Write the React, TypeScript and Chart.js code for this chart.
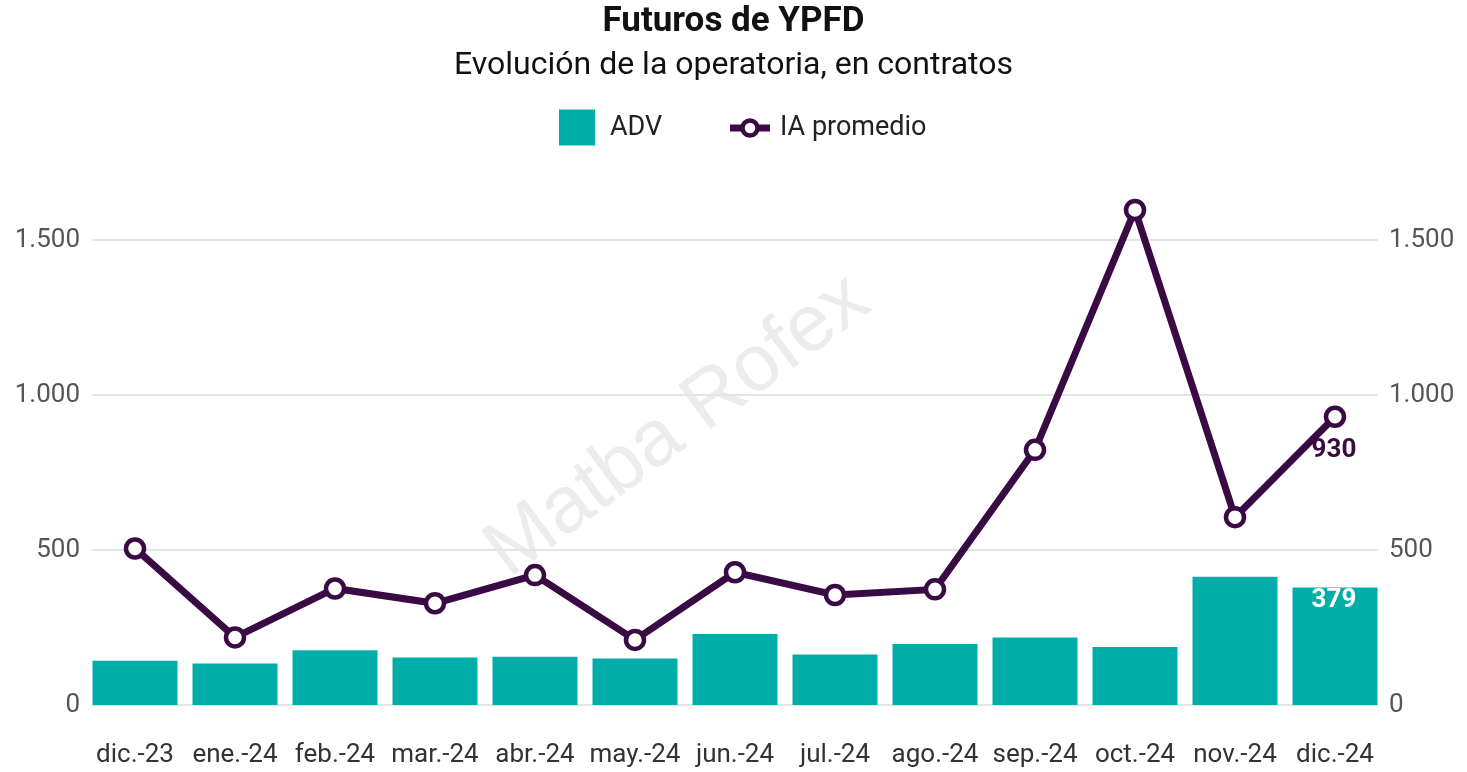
import React, { useEffect, useRef } from 'react';
import { Chart, registerables } from 'chart.js';

Chart.register(...registerables);

const categories = ['dic.-23', 'ene.-24', 'feb.-24', 'mar.-24', 'abr.-24', 'may.-24', 'jun.-24', 'jul.-24', 'ago.-24', 'sep.-24', 'oct.-24', 'nov.-24', 'dic.-24'];
const advValues = [143, 134, 177, 153, 156, 150, 229, 163, 197, 218, 187, 414, 379];
const iaValues = [505, 218, 376, 328, 419, 210, 428, 355, 373, 823, 1597, 606, 930];
const yTickValues = [0, 500, 1000, 1500];
const seriesNames = ['ADV', 'IA promedio'];
const titleText = 'Futuros de YPFD';
const subtitleText = 'Evolución de la operatoria, en contratos';
const watermarkText = 'Matba Rofex';

const TEAL = '#00AEA9';
const PURPLE = '#3a0a44';
const FONT = 'Roboto, "Noto Sans", sans-serif';

const fmt = (v: number) => String(Math.round(v)).replace(/\B(?=(\d{3})+(?!\d))/g, '.');

const customPlugin = {
  id: 'custom',
  beforeDatasetsDraw(chart: any) {
    const ctx = chart.ctx;
    const y = chart.scales.y;
    const meta = chart.getDatasetMeta(0);
    const first = meta.data[0];
    const last = meta.data[meta.data.length - 1];
    const left = first.x - first.width / 2;
    const right = last.x + last.width / 2;
    ctx.save();
    ctx.translate(678, 426);
    ctx.rotate(-36.5 * Math.PI / 180);
    ctx.font = '80px "Liberation Sans", Arial, sans-serif';
    ctx.fillStyle = '#ececec';
    ctx.textAlign = 'center';
    ctx.textBaseline = 'middle';
    ctx.fillText(watermarkText, 0, 0);
    ctx.restore();
    ctx.save();
    ctx.strokeStyle = '#e4e4e4';
    ctx.lineWidth = 2;
    yTickValues.forEach((v) => {
      const py = Math.round(y.getPixelForValue(v));
      ctx.beginPath();
      ctx.moveTo(left, py);
      ctx.lineTo(right, py);
      ctx.stroke();
    });
    ctx.restore();
  },
  afterDraw(chart: any) {
    const ctx = chart.ctx;
    ctx.save();
    const cx = chart.width / 2;
    const ly = 128;
    ctx.font = `27px ${FONT}`;
    ctx.textBaseline = 'middle';
    ctx.textAlign = 'left';
    ctx.fillStyle = TEAL;
    ctx.fillRect(cx - 174.5, ly - 18.5, 36, 36);
    ctx.fillStyle = '#222';
    ctx.fillText(seriesNames[0], cx - 123.5, ly);
    ctx.strokeStyle = PURPLE;
    ctx.lineWidth = 7;
    ctx.beginPath();
    ctx.moveTo(cx - 3.5, ly);
    ctx.lineTo(cx + 36.5, ly);
    ctx.stroke();
    ctx.beginPath();
    ctx.arc(cx + 16.5, ly, 7.5, 0, Math.PI * 2);
    ctx.fillStyle = '#fff';
    ctx.fill();
    ctx.lineWidth = 4.5;
    ctx.stroke();
    ctx.fillStyle = '#222';
    ctx.fillText(seriesNames[1], cx + 46.5, ly);

    const lineMeta = chart.getDatasetMeta(1);
    const barMeta = chart.getDatasetMeta(0);
    const li = iaValues.length - 1;
    const lp = lineMeta.data[li];
    ctx.font = `bold 26px ${FONT}`;
    ctx.textAlign = 'center';
    ctx.fillStyle = PURPLE;
    ctx.fillText(fmt(iaValues[li]), lp.x - 1, lp.y + 34);
    const bp = barMeta.data[li];
    ctx.fillStyle = '#ffffff';
    ctx.fillText(fmt(advValues[li]), bp.x - 1, bp.y + 13);
    ctx.restore();
  },
};

const setTicks = (s: any) => { s.ticks = yTickValues.map((v) => ({ value: v })); };

export default function App() {
  const ref = useRef<HTMLCanvasElement>(null);
  useEffect(() => {
    document.body.style.margin = '0';
    const chart = new Chart(ref.current as HTMLCanvasElement, {
      type: 'bar',
      data: {
        labels: categories,
        datasets: [
          {
            type: 'bar',
            label: seriesNames[0],
            data: advValues,
            backgroundColor: TEAL,
            barPercentage: 0.85,
            categoryPercentage: 1,
            yAxisID: 'y',
            order: 2,
          } as any,
          {
            type: 'line',
            label: seriesNames[1],
            data: iaValues,
            borderColor: PURPLE,
            borderWidth: 7,
            pointRadius: 9,
            pointBorderWidth: 4.5,
            pointBackgroundColor: '#ffffff',
            pointBorderColor: PURPLE,
            tension: 0,
            yAxisID: 'y',
            order: 1,
          } as any,
        ],
      },
      options: {
        responsive: false,
        animation: false,
        layout: { padding: 0 },
        plugins: {
          legend: { display: false },
          tooltip: { enabled: false },
          title: {
            display: true,
            text: titleText,
            color: '#111',
            font: { family: FONT, size: 35, weight: 'bold', lineHeight: 1.2 },
            padding: { top: 1.5, bottom: 0 },
          },
          subtitle: {
            display: true,
            text: subtitleText,
            color: '#111',
            font: { family: FONT, size: 32, lineHeight: 1.2 },
            padding: { top: 3.6, bottom: 92.5 },
          },
        },
        scales: {
          x: {
            grid: { display: false, drawTicks: false },
            border: { display: false },
            ticks: { color: '#333', font: { family: FONT, size: 26 }, padding: 35, maxRotation: 0, autoSkip: false },
            afterFit: (s: any) => { s.height = 67; },
          },
          y: {
            position: 'left',
            min: 0,
            max: 1700,
            grid: { display: false, drawTicks: false },
            border: { display: false },
            afterBuildTicks: setTicks,
            ticks: { color: '#555', font: { family: FONT, size: 26 }, padding: 5, callback: (v: any) => fmt(Number(v)) },
            afterFit: (s: any) => { s.width = 85; },
          },
          y1: {
            position: 'right',
            min: 0,
            max: 1700,
            grid: { display: false, drawTicks: false },
            border: { display: false },
            afterBuildTicks: setTicks,
            ticks: { color: '#555', font: { family: FONT, size: 26 }, padding: 4, callback: (v: any) => fmt(Number(v)) },
            afterFit: (s: any) => { s.width = 82; },
          },
        },
      } as any,
      plugins: [customPlugin],
    });
    return () => chart.destroy();
  }, []);
  return (
    <div style={{ position: 'fixed', left: 0, top: 0, width: 1467, height: 772 }}>
      <canvas ref={ref} width={1467} height={772} />
    </div>
  );
}
